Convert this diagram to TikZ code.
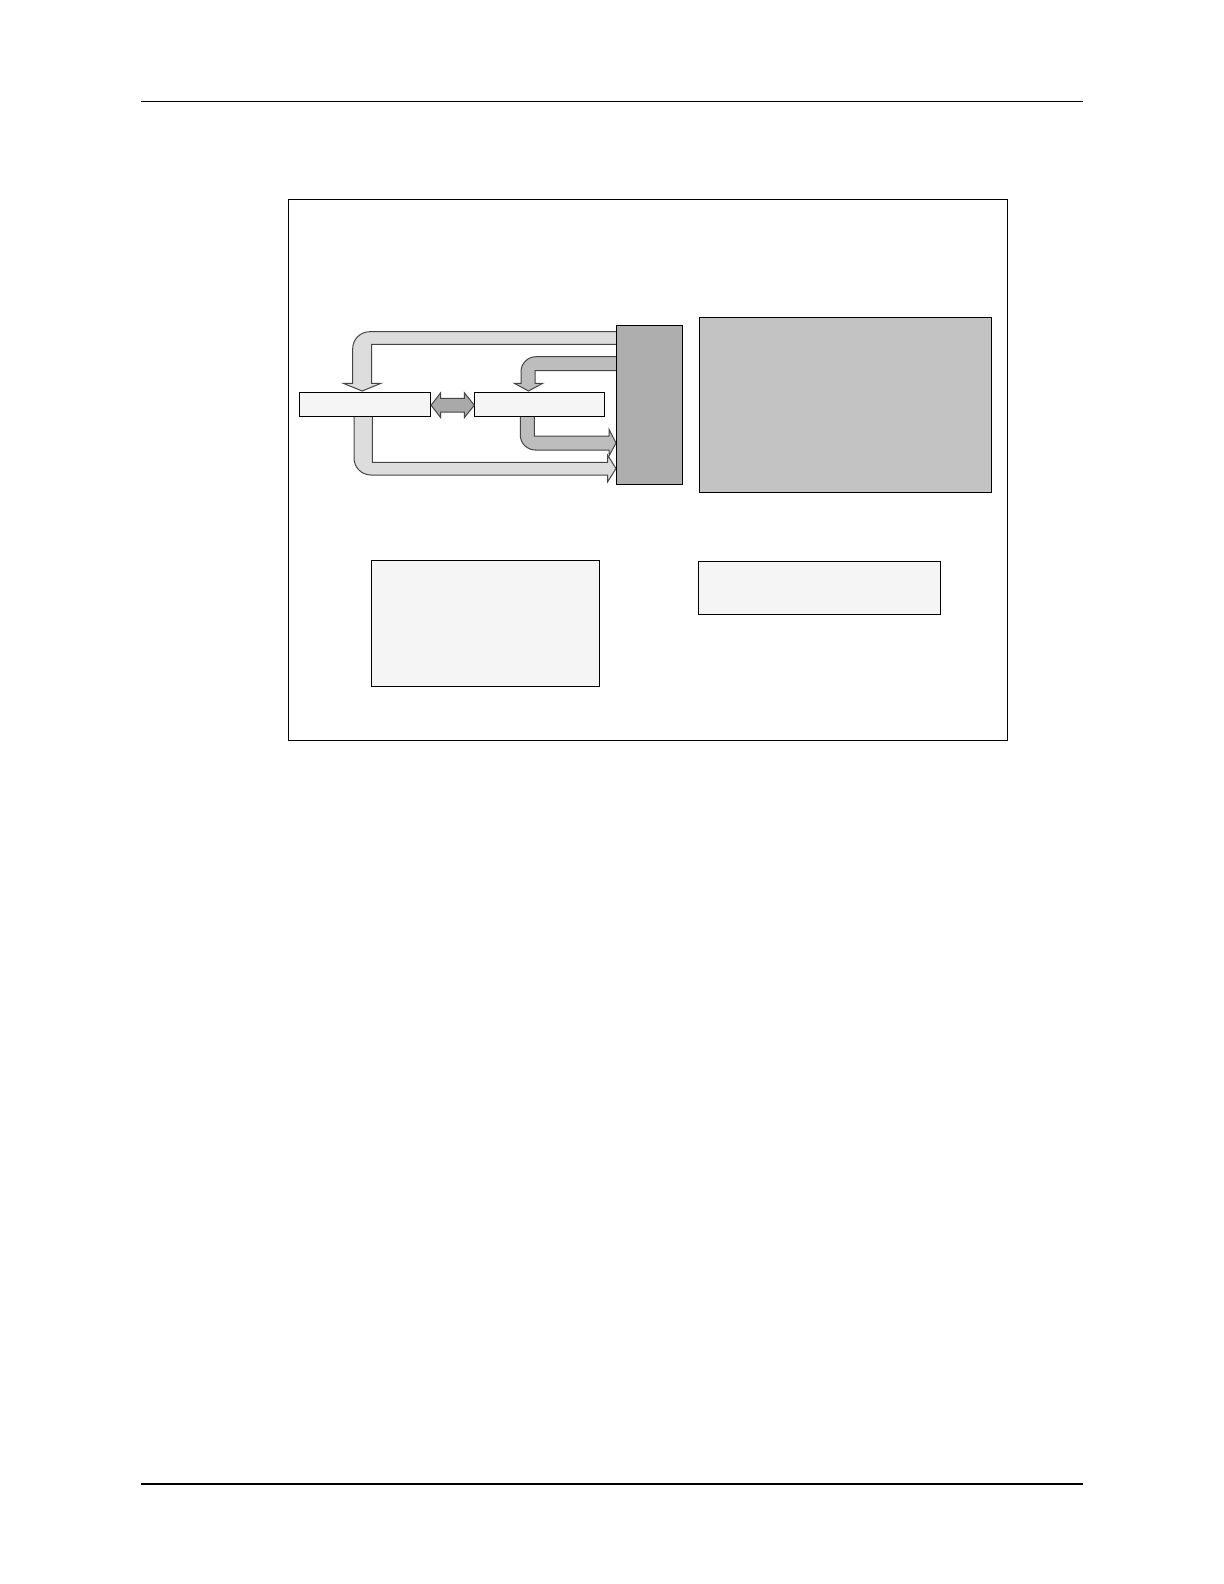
\documentclass[tikz,border=0pt]{standalone}
\usetikzlibrary{calc}
\definecolor{boxlight}{HTML}{F5F5F5}
\definecolor{boxdark}{HTML}{AEAEAE}
\definecolor{boxmid}{HTML}{C3C3C3}
\definecolor{arrlight}{HTML}{DDDDDD}
\definecolor{arrmid}{HTML}{BDBDBD}
\definecolor{arrdark}{HTML}{A9A9A9}
\definecolor{arredge}{HTML}{454545}
\tikzset{
  plainbox/.style={draw=black, line width=0.55bp, fill=boxlight},
  thinbox/.style={draw=black, line width=0.4bp, fill=boxlight},
  framebox/.style={draw=black, line width=0.6bp},
  rule/.style={draw=black, line width=0.7bp},
  blockarrow/.style={draw=arredge, line width=0.5bp, line join=miter},
  lightarrow/.style={blockarrow, fill=arrlight},
  midarrow/.style={blockarrow, fill=arrmid},
  darkarrow/.style={blockarrow, fill=arrdark},
}
\begin{document}
\begin{tikzpicture}[x=0.5bp, y=-0.5bp]
\useasboundingbox (0,0) rectangle (1224,1584);
\fill[white] (0,0) rectangle (1224,1584);

% header / footer rules
\draw[rule] (141,101.3) -- (1083,101.3);
\draw[rule] (141,1484) -- (1083,1484);

% outer frame
\draw[framebox] (288.3,199.3) rectangle (1007.3,740.3);

% block arrows
% top light arrow: from dark box to left box
\path[lightarrow] (617,331.7) -- (369.7,331.7) arc[start angle=270, end angle=180, radius=17] -- (352.7,383.3) -- (343.3,383.3) -- (362.2,391) -- (381,383.3) -- (371.7,383.3) -- (371.7,344.3) -- (617,344.3);
% top medium arrow: from dark box to middle box
\path[midarrow] (617,356.7) -- (536,356.7) arc[start angle=270, end angle=180, radius=15] -- (521,383.3) -- (514.3,383.3) -- (528.5,391) -- (542.7,383.3) -- (535,383.3) -- (535,370.7) -- (617,370.7);
% lower medium arrow: from middle box to dark box
\path[midarrow] (520.3,415) -- (520.3,435) arc[start angle=180, end angle=90, radius=15] -- (609,450) -- (609,456) -- (616,443) -- (609,429.3) -- (609,436) -- (534.3,436) -- (534.3,415);
% lower light arrow: from left box to dark box
\path[lightarrow] (354,415) -- (354,458) arc[start angle=180, end angle=90, radius=17] -- (607.7,475) -- (607.7,481.7) -- (616,468.5) -- (607.7,455.3) -- (607.7,462.3) -- (372.3,462.3) -- (372.3,415);

% boxes
\node[thinbox, anchor=north west, minimum width=131bp/2, minimum height=24bp/2, inner sep=0pt] (boxA) at (299.3,392.3) {};
\node[thinbox, anchor=north west, minimum width=130bp/2, minimum height=24bp/2, inner sep=0pt] (boxB) at (474.3,392.3) {};
\node[draw=black, line width=0.5bp, fill=boxdark, anchor=north west, minimum width=65.5bp/2, minimum height=158.7bp/2, inner sep=0pt] (boxD) at (616,325.3) {};
\node[draw=black, line width=0.55bp, fill=boxmid, anchor=north west, minimum width=292bp/2, minimum height=175.5bp/2, inner sep=0pt] (boxR) at (699.3,316.5) {};
\node[plainbox, anchor=north west, minimum width=228bp/2, minimum height=125.7bp/2, inner sep=0pt] (boxL) at (371.3,560.3) {};
\node[plainbox, anchor=north west, minimum width=241.4bp/2, minimum height=52.7bp/2, inner sep=0pt] (boxM) at (698.3,561.3) {};

% double arrow between the two small boxes
\path[darkarrow] (boxA.east |- 0,405.2) -- (440.7,392.7) -- (440.7,398.3) -- (464.3,398.3) -- (464.3,392.7) -- (boxB.west |- 0,405.2) -- (464.3,417.7) -- (464.3,412) -- (440.7,412) -- (440.7,417.7) -- cycle;
\end{tikzpicture}
\end{document}
